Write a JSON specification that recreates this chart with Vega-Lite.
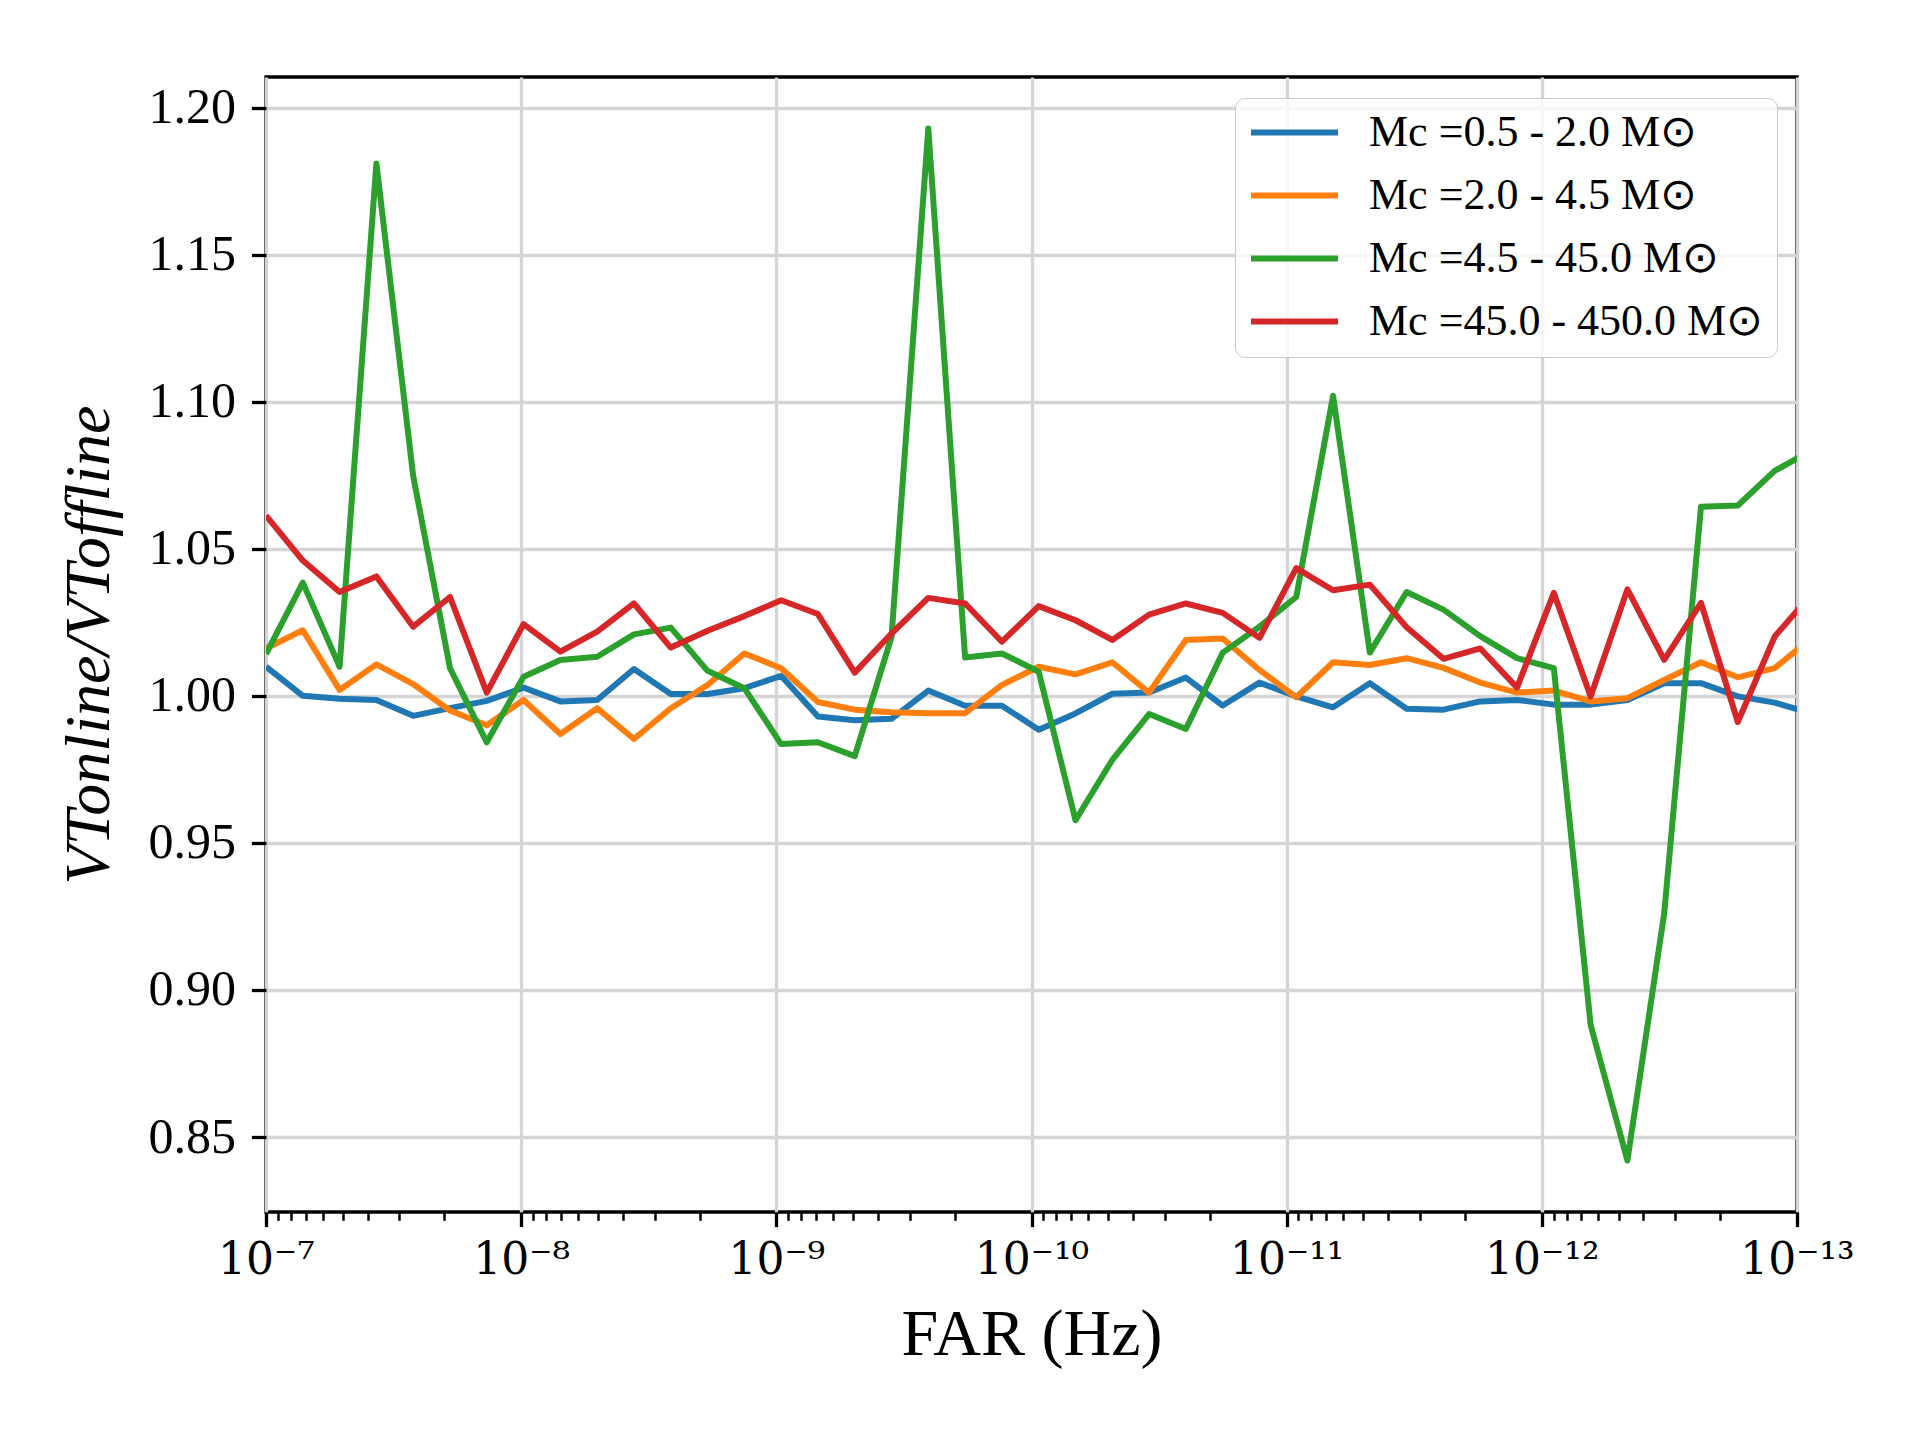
{
  "$schema": "https://vega.github.io/schema/vega-lite/v6.json",
  "width": 1531,
  "height": 1135,
  "autosize": {"type": "none"},
  "padding": {"left": 266, "top": 77, "right": 123, "bottom": 228},
  "background": "white",
  "config": {
    "view": {"stroke": "black", "strokeWidth": 3.3},
    "font": "Liberation Serif"
  },
  "data": {
    "values": [
      {"far": 1e-7, "series": "Mc =0.5 - 2.0 M⊙", "ratio": 1.0099},
      {"far": 7.174e-8, "series": "Mc =0.5 - 2.0 M⊙", "ratio": 1.0000},
      {"far": 5.147e-8, "series": "Mc =0.5 - 2.0 M⊙", "ratio": 0.9990},
      {"far": 3.693e-8, "series": "Mc =0.5 - 2.0 M⊙", "ratio": 0.9986},
      {"far": 2.650e-8, "series": "Mc =0.5 - 2.0 M⊙", "ratio": 0.9932},
      {"far": 1.901e-8, "series": "Mc =0.5 - 2.0 M⊙", "ratio": 0.9958},
      {"far": 1.364e-8, "series": "Mc =0.5 - 2.0 M⊙", "ratio": 0.9983},
      {"far": 9.786e-9, "series": "Mc =0.5 - 2.0 M⊙", "ratio": 1.0028},
      {"far": 7.020e-9, "series": "Mc =0.5 - 2.0 M⊙", "ratio": 0.9981},
      {"far": 5.037e-9, "series": "Mc =0.5 - 2.0 M⊙", "ratio": 0.9986},
      {"far": 3.614e-9, "series": "Mc =0.5 - 2.0 M⊙", "ratio": 1.0091},
      {"far": 2.593e-9, "series": "Mc =0.5 - 2.0 M⊙", "ratio": 1.0006},
      {"far": 1.860e-9, "series": "Mc =0.5 - 2.0 M⊙", "ratio": 1.0006},
      {"far": 1.335e-9, "series": "Mc =0.5 - 2.0 M⊙", "ratio": 1.0026},
      {"far": 9.577e-10, "series": "Mc =0.5 - 2.0 M⊙", "ratio": 1.0068},
      {"far": 6.870e-10, "series": "Mc =0.5 - 2.0 M⊙", "ratio": 0.9930},
      {"far": 4.929e-10, "series": "Mc =0.5 - 2.0 M⊙", "ratio": 0.9917},
      {"far": 3.537e-10, "series": "Mc =0.5 - 2.0 M⊙", "ratio": 0.9922},
      {"far": 2.538e-10, "series": "Mc =0.5 - 2.0 M⊙", "ratio": 1.0018},
      {"far": 1.8205e-10, "series": "Mc =0.5 - 2.0 M⊙", "ratio": 0.9966},
      {"far": 1.306e-10, "series": "Mc =0.5 - 2.0 M⊙", "ratio": 0.9966},
      {"far": 9.371e-11, "series": "Mc =0.5 - 2.0 M⊙", "ratio": 0.9885},
      {"far": 6.723e-11, "series": "Mc =0.5 - 2.0 M⊙", "ratio": 0.9940},
      {"far": 4.824e-11, "series": "Mc =0.5 - 2.0 M⊙", "ratio": 1.0007},
      {"far": 3.461e-11, "series": "Mc =0.5 - 2.0 M⊙", "ratio": 1.0011},
      {"far": 2.483e-11, "series": "Mc =0.5 - 2.0 M⊙", "ratio": 1.0062},
      {"far": 1.781e-11, "series": "Mc =0.5 - 2.0 M⊙", "ratio": 0.9967},
      {"far": 1.278e-11, "series": "Mc =0.5 - 2.0 M⊙", "ratio": 1.0045},
      {"far": 9.171e-12, "series": "Mc =0.5 - 2.0 M⊙", "ratio": 0.9998},
      {"far": 6.579e-12, "series": "Mc =0.5 - 2.0 M⊙", "ratio": 0.9961},
      {"far": 4.721e-12, "series": "Mc =0.5 - 2.0 M⊙", "ratio": 1.0043},
      {"far": 3.387e-12, "series": "Mc =0.5 - 2.0 M⊙", "ratio": 0.9956},
      {"far": 2.430e-12, "series": "Mc =0.5 - 2.0 M⊙", "ratio": 0.9953},
      {"far": 1.743e-12, "series": "Mc =0.5 - 2.0 M⊙", "ratio": 0.9981},
      {"far": 1.251e-12, "series": "Mc =0.5 - 2.0 M⊙", "ratio": 0.9986},
      {"far": 8.974e-13, "series": "Mc =0.5 - 2.0 M⊙", "ratio": 0.9970},
      {"far": 6.438e-13, "series": "Mc =0.5 - 2.0 M⊙", "ratio": 0.9970},
      {"far": 4.620e-13, "series": "Mc =0.5 - 2.0 M⊙", "ratio": 0.9986},
      {"far": 3.315e-13, "series": "Mc =0.5 - 2.0 M⊙", "ratio": 1.0043},
      {"far": 2.378e-13, "series": "Mc =0.5 - 2.0 M⊙", "ratio": 1.0043},
      {"far": 1.706e-13, "series": "Mc =0.5 - 2.0 M⊙", "ratio": 0.9998},
      {"far": 1.224e-13, "series": "Mc =0.5 - 2.0 M⊙", "ratio": 0.9977},
      {"far": 8.781e-14, "series": "Mc =0.5 - 2.0 M⊙", "ratio": 0.9941},

      {"far": 1e-7, "series": "Mc =2.0 - 4.5 M⊙", "ratio": 1.0161},
      {"far": 7.174e-8, "series": "Mc =2.0 - 4.5 M⊙", "ratio": 1.0223},
      {"far": 5.147e-8, "series": "Mc =2.0 - 4.5 M⊙", "ratio": 1.0020},
      {"far": 3.693e-8, "series": "Mc =2.0 - 4.5 M⊙", "ratio": 1.0107},
      {"far": 2.650e-8, "series": "Mc =2.0 - 4.5 M⊙", "ratio": 1.0040},
      {"far": 1.901e-8, "series": "Mc =2.0 - 4.5 M⊙", "ratio": 0.9950},
      {"far": 1.364e-8, "series": "Mc =2.0 - 4.5 M⊙", "ratio": 0.9900},
      {"far": 9.786e-9, "series": "Mc =2.0 - 4.5 M⊙", "ratio": 0.9986},
      {"far": 7.020e-9, "series": "Mc =2.0 - 4.5 M⊙", "ratio": 0.9870},
      {"far": 5.037e-9, "series": "Mc =2.0 - 4.5 M⊙", "ratio": 0.9958},
      {"far": 3.614e-9, "series": "Mc =2.0 - 4.5 M⊙", "ratio": 0.9853},
      {"far": 2.593e-9, "series": "Mc =2.0 - 4.5 M⊙", "ratio": 0.9958},
      {"far": 1.860e-9, "series": "Mc =2.0 - 4.5 M⊙", "ratio": 1.0037},
      {"far": 1.335e-9, "series": "Mc =2.0 - 4.5 M⊙", "ratio": 1.0144},
      {"far": 9.577e-10, "series": "Mc =2.0 - 4.5 M⊙", "ratio": 1.0094},
      {"far": 6.870e-10, "series": "Mc =2.0 - 4.5 M⊙", "ratio": 0.9979},
      {"far": 4.929e-10, "series": "Mc =2.0 - 4.5 M⊙", "ratio": 0.9953},
      {"far": 3.537e-10, "series": "Mc =2.0 - 4.5 M⊙", "ratio": 0.9944},
      {"far": 2.538e-10, "series": "Mc =2.0 - 4.5 M⊙", "ratio": 0.9941},
      {"far": 1.8205e-10, "series": "Mc =2.0 - 4.5 M⊙", "ratio": 0.9941},
      {"far": 1.306e-10, "series": "Mc =2.0 - 4.5 M⊙", "ratio": 1.0037},
      {"far": 9.371e-11, "series": "Mc =2.0 - 4.5 M⊙", "ratio": 1.0099},
      {"far": 6.723e-11, "series": "Mc =2.0 - 4.5 M⊙", "ratio": 1.0073},
      {"far": 4.824e-11, "series": "Mc =2.0 - 4.5 M⊙", "ratio": 1.0114},
      {"far": 3.461e-11, "series": "Mc =2.0 - 4.5 M⊙", "ratio": 1.0011},
      {"far": 2.483e-11, "series": "Mc =2.0 - 4.5 M⊙", "ratio": 1.0190},
      {"far": 1.781e-11, "series": "Mc =2.0 - 4.5 M⊙", "ratio": 1.0195},
      {"far": 1.278e-11, "series": "Mc =2.0 - 4.5 M⊙", "ratio": 1.0088},
      {"far": 9.171e-12, "series": "Mc =2.0 - 4.5 M⊙", "ratio": 0.9995},
      {"far": 6.579e-12, "series": "Mc =2.0 - 4.5 M⊙", "ratio": 1.0114},
      {"far": 4.721e-12, "series": "Mc =2.0 - 4.5 M⊙", "ratio": 1.0105},
      {"far": 3.387e-12, "series": "Mc =2.0 - 4.5 M⊙", "ratio": 1.0128},
      {"far": 2.430e-12, "series": "Mc =2.0 - 4.5 M⊙", "ratio": 1.0095},
      {"far": 1.743e-12, "series": "Mc =2.0 - 4.5 M⊙", "ratio": 1.0045},
      {"far": 1.251e-12, "series": "Mc =2.0 - 4.5 M⊙", "ratio": 1.0011},
      {"far": 8.974e-13, "series": "Mc =2.0 - 4.5 M⊙", "ratio": 1.0018},
      {"far": 6.438e-13, "series": "Mc =2.0 - 4.5 M⊙", "ratio": 0.9981},
      {"far": 4.620e-13, "series": "Mc =2.0 - 4.5 M⊙", "ratio": 0.9992},
      {"far": 3.315e-13, "series": "Mc =2.0 - 4.5 M⊙", "ratio": 1.0054},
      {"far": 2.378e-13, "series": "Mc =2.0 - 4.5 M⊙", "ratio": 1.0114},
      {"far": 1.706e-13, "series": "Mc =2.0 - 4.5 M⊙", "ratio": 1.0063},
      {"far": 1.224e-13, "series": "Mc =2.0 - 4.5 M⊙", "ratio": 1.0094},
      {"far": 8.781e-14, "series": "Mc =2.0 - 4.5 M⊙", "ratio": 1.0196},

      {"far": 1e-7, "series": "Mc =4.5 - 45.0 M⊙", "ratio": 1.0142},
      {"far": 7.174e-8, "series": "Mc =4.5 - 45.0 M⊙", "ratio": 1.0385},
      {"far": 5.147e-8, "series": "Mc =4.5 - 45.0 M⊙", "ratio": 1.0099},
      {"far": 3.693e-8, "series": "Mc =4.5 - 45.0 M⊙", "ratio": 1.1810},
      {"far": 2.650e-8, "series": "Mc =4.5 - 45.0 M⊙", "ratio": 1.0748},
      {"far": 1.901e-8, "series": "Mc =4.5 - 45.0 M⊙", "ratio": 1.0094},
      {"far": 1.364e-8, "series": "Mc =4.5 - 45.0 M⊙", "ratio": 0.9842},
      {"far": 9.786e-9, "series": "Mc =4.5 - 45.0 M⊙", "ratio": 1.0065},
      {"far": 7.020e-9, "series": "Mc =4.5 - 45.0 M⊙", "ratio": 1.0122},
      {"far": 5.037e-9, "series": "Mc =4.5 - 45.0 M⊙", "ratio": 1.0133},
      {"far": 3.614e-9, "series": "Mc =4.5 - 45.0 M⊙", "ratio": 1.0209},
      {"far": 2.593e-9, "series": "Mc =4.5 - 45.0 M⊙", "ratio": 1.0232},
      {"far": 1.860e-9, "series": "Mc =4.5 - 45.0 M⊙", "ratio": 1.0085},
      {"far": 1.335e-9, "series": "Mc =4.5 - 45.0 M⊙", "ratio": 1.0026},
      {"far": 9.577e-10, "series": "Mc =4.5 - 45.0 M⊙", "ratio": 0.9836},
      {"far": 6.870e-10, "series": "Mc =4.5 - 45.0 M⊙", "ratio": 0.9842},
      {"far": 4.929e-10, "series": "Mc =4.5 - 45.0 M⊙", "ratio": 0.9795},
      {"far": 3.537e-10, "series": "Mc =4.5 - 45.0 M⊙", "ratio": 1.0200},
      {"far": 2.538e-10, "series": "Mc =4.5 - 45.0 M⊙", "ratio": 1.1929},
      {"far": 1.8205e-10, "series": "Mc =4.5 - 45.0 M⊙", "ratio": 1.0130},
      {"far": 1.306e-10, "series": "Mc =4.5 - 45.0 M⊙", "ratio": 1.0144},
      {"far": 9.371e-11, "series": "Mc =4.5 - 45.0 M⊙", "ratio": 1.0082},
      {"far": 6.723e-11, "series": "Mc =4.5 - 45.0 M⊙", "ratio": 0.9577},
      {"far": 4.824e-11, "series": "Mc =4.5 - 45.0 M⊙", "ratio": 0.9782},
      {"far": 3.461e-11, "series": "Mc =4.5 - 45.0 M⊙", "ratio": 0.9938},
      {"far": 2.483e-11, "series": "Mc =4.5 - 45.0 M⊙", "ratio": 0.9887},
      {"far": 1.781e-11, "series": "Mc =4.5 - 45.0 M⊙", "ratio": 1.0147},
      {"far": 1.278e-11, "series": "Mc =4.5 - 45.0 M⊙", "ratio": 1.0235},
      {"far": 9.171e-12, "series": "Mc =4.5 - 45.0 M⊙", "ratio": 1.0336},
      {"far": 6.579e-12, "series": "Mc =4.5 - 45.0 M⊙", "ratio": 1.1020},
      {"far": 4.721e-12, "series": "Mc =4.5 - 45.0 M⊙", "ratio": 1.0147},
      {"far": 3.387e-12, "series": "Mc =4.5 - 45.0 M⊙", "ratio": 1.0353},
      {"far": 2.430e-12, "series": "Mc =4.5 - 45.0 M⊙", "ratio": 1.0293},
      {"far": 1.743e-12, "series": "Mc =4.5 - 45.0 M⊙", "ratio": 1.0203},
      {"far": 1.251e-12, "series": "Mc =4.5 - 45.0 M⊙", "ratio": 1.0128},
      {"far": 8.974e-13, "series": "Mc =4.5 - 45.0 M⊙", "ratio": 1.0094},
      {"far": 6.438e-13, "series": "Mc =4.5 - 45.0 M⊙", "ratio": 0.8881},
      {"far": 4.620e-13, "series": "Mc =4.5 - 45.0 M⊙", "ratio": 0.8420},
      {"far": 3.315e-13, "series": "Mc =4.5 - 45.0 M⊙", "ratio": 0.9260},
      {"far": 2.378e-13, "series": "Mc =4.5 - 45.0 M⊙", "ratio": 1.0643},
      {"far": 1.706e-13, "series": "Mc =4.5 - 45.0 M⊙", "ratio": 1.0647},
      {"far": 1.224e-13, "series": "Mc =4.5 - 45.0 M⊙", "ratio": 1.0765},
      {"far": 8.781e-14, "series": "Mc =4.5 - 45.0 M⊙", "ratio": 1.0834},

      {"far": 1e-7, "series": "Mc =45.0 - 450.0 M⊙", "ratio": 1.0613},
      {"far": 7.174e-8, "series": "Mc =45.0 - 450.0 M⊙", "ratio": 1.0460},
      {"far": 5.147e-8, "series": "Mc =45.0 - 450.0 M⊙", "ratio": 1.0353},
      {"far": 3.693e-8, "series": "Mc =45.0 - 450.0 M⊙", "ratio": 1.0406},
      {"far": 2.650e-8, "series": "Mc =45.0 - 450.0 M⊙", "ratio": 1.0235},
      {"far": 1.901e-8, "series": "Mc =45.0 - 450.0 M⊙", "ratio": 1.0336},
      {"far": 1.364e-8, "series": "Mc =45.0 - 450.0 M⊙", "ratio": 1.0011},
      {"far": 9.786e-9, "series": "Mc =45.0 - 450.0 M⊙", "ratio": 1.0244},
      {"far": 7.020e-9, "series": "Mc =45.0 - 450.0 M⊙", "ratio": 1.0150},
      {"far": 5.037e-9, "series": "Mc =45.0 - 450.0 M⊙", "ratio": 1.0218},
      {"far": 3.614e-9, "series": "Mc =45.0 - 450.0 M⊙", "ratio": 1.0314},
      {"far": 2.593e-9, "series": "Mc =45.0 - 450.0 M⊙", "ratio": 1.0164},
      {"far": 1.860e-9, "series": "Mc =45.0 - 450.0 M⊙", "ratio": 1.0221},
      {"far": 1.335e-9, "series": "Mc =45.0 - 450.0 M⊙", "ratio": 1.0271},
      {"far": 9.577e-10, "series": "Mc =45.0 - 450.0 M⊙", "ratio": 1.0325},
      {"far": 6.870e-10, "series": "Mc =45.0 - 450.0 M⊙", "ratio": 1.0278},
      {"far": 4.929e-10, "series": "Mc =45.0 - 450.0 M⊙", "ratio": 1.0079},
      {"far": 3.537e-10, "series": "Mc =45.0 - 450.0 M⊙", "ratio": 1.0212},
      {"far": 2.538e-10, "series": "Mc =45.0 - 450.0 M⊙", "ratio": 1.0333},
      {"far": 1.8205e-10, "series": "Mc =45.0 - 450.0 M⊙", "ratio": 1.0314},
      {"far": 1.306e-10, "series": "Mc =45.0 - 450.0 M⊙", "ratio": 1.0184},
      {"far": 9.371e-11, "series": "Mc =45.0 - 450.0 M⊙", "ratio": 1.0305},
      {"far": 6.723e-11, "series": "Mc =45.0 - 450.0 M⊙", "ratio": 1.0257},
      {"far": 4.824e-11, "series": "Mc =45.0 - 450.0 M⊙", "ratio": 1.0190},
      {"far": 3.461e-11, "series": "Mc =45.0 - 450.0 M⊙", "ratio": 1.0276},
      {"far": 2.483e-11, "series": "Mc =45.0 - 450.0 M⊙", "ratio": 1.0314},
      {"far": 1.781e-11, "series": "Mc =45.0 - 450.0 M⊙", "ratio": 1.0282},
      {"far": 1.278e-11, "series": "Mc =45.0 - 450.0 M⊙", "ratio": 1.0197},
      {"far": 9.171e-12, "series": "Mc =45.0 - 450.0 M⊙", "ratio": 1.0434},
      {"far": 6.579e-12, "series": "Mc =45.0 - 450.0 M⊙", "ratio": 1.0359},
      {"far": 4.721e-12, "series": "Mc =45.0 - 450.0 M⊙", "ratio": 1.0378},
      {"far": 3.387e-12, "series": "Mc =45.0 - 450.0 M⊙", "ratio": 1.0233},
      {"far": 2.430e-12, "series": "Mc =45.0 - 450.0 M⊙", "ratio": 1.0126},
      {"far": 1.743e-12, "series": "Mc =45.0 - 450.0 M⊙", "ratio": 1.0161},
      {"far": 1.251e-12, "series": "Mc =45.0 - 450.0 M⊙", "ratio": 1.0028},
      {"far": 8.974e-13, "series": "Mc =45.0 - 450.0 M⊙", "ratio": 1.0350},
      {"far": 6.438e-13, "series": "Mc =45.0 - 450.0 M⊙", "ratio": 0.9998},
      {"far": 4.620e-13, "series": "Mc =45.0 - 450.0 M⊙", "ratio": 1.0362},
      {"far": 3.315e-13, "series": "Mc =45.0 - 450.0 M⊙", "ratio": 1.0122},
      {"far": 2.378e-13, "series": "Mc =45.0 - 450.0 M⊙", "ratio": 1.0316},
      {"far": 1.706e-13, "series": "Mc =45.0 - 450.0 M⊙", "ratio": 0.9911},
      {"far": 1.224e-13, "series": "Mc =45.0 - 450.0 M⊙", "ratio": 1.0201},
      {"far": 8.781e-14, "series": "Mc =45.0 - 450.0 M⊙", "ratio": 1.0346}
    ]
  },
  "mark": {"type": "line", "clip": true, "strokeWidth": 6, "strokeCap": "butt", "strokeJoin": "round"},
  "encoding": {
    "x": {
      "field": "far",
      "type": "quantitative",
      "scale": {"type": "log", "domain": [1e-13, 1e-7], "reverse": true, "nice": false},
      "axis": {
        "title": "FAR (Hz)",
        "titleFont": "Liberation Serif",
        "titleFontSize": 66,
        "titleFontWeight": "normal",
        "titleColor": "black",
        "titlePadding": 20,
        "values": [1e-7, 9e-8, 8e-8, 7e-8, 6e-8, 5e-8, 4e-8, 3e-8, 2e-8,
                   1e-8, 9e-9, 8e-9, 7e-9, 6e-9, 5e-9, 4e-9, 3e-9, 2e-9,
                   1e-9, 9e-10, 8e-10, 7e-10, 6e-10, 5e-10, 4e-10, 3e-10, 2e-10,
                   1e-10, 9e-11, 8e-11, 7e-11, 6e-11, 5e-11, 4e-11, 3e-11, 2e-11,
                   1e-11, 9e-12, 8e-12, 7e-12, 6e-12, 5e-12, 4e-12, 3e-12, 2e-12,
                   1e-12, 9e-13, 8e-13, 7e-13, 6e-13, 5e-13, 4e-13, 3e-13, 2e-13,
                   1e-13],
        "labelExpr": "abs(datum.value - 1e-7) < 1e-9 ? '10⁻⁷' : abs(datum.value - 1e-8) < 1e-10 ? '10⁻⁸' : abs(datum.value - 1e-9) < 1e-11 ? '10⁻⁹' : abs(datum.value - 1e-10) < 1e-12 ? '10⁻¹⁰' : abs(datum.value - 1e-11) < 1e-13 ? '10⁻¹¹' : abs(datum.value - 1e-12) < 1e-14 ? '10⁻¹²' : abs(datum.value - 1e-13) < 1e-15 ? '10⁻¹³' : ''",
        "labelFont": "DejaVu Serif",
        "labelFontSize": 44,
        "labelColor": "black",
        "labelFlush": false,
        "labelOverlap": false,
        "labelPadding": 12,
        "domain": false,
        "ticks": true,
        "tickColor": "black",
        "tickSize": {"condition": {"test": "abs(log(datum.value)/LN10 - round(log(datum.value)/LN10)) < 0.001", "value": 14.6}, "value": 8.3},
        "tickWidth": {"condition": {"test": "abs(log(datum.value)/LN10 - round(log(datum.value)/LN10)) < 0.001", "value": 3.3}, "value": 2.5},
        "grid": true,
        "gridColor": "#d5d5d5",
        "gridWidth": 3.3,
        "gridOpacity": {"condition": {"test": "abs(log(datum.value)/LN10 - round(log(datum.value)/LN10)) < 0.001", "value": 1}, "value": 0}
      }
    },
    "y": {
      "field": "ratio",
      "type": "quantitative",
      "scale": {"domain": [0.8245, 1.2104], "nice": false, "zero": false},
      "axis": {
        "title": "VTonline/VToffline",
        "titleFont": "Liberation Serif",
        "titleFontSize": 64,
        "titleFontStyle": "italic",
        "titleFontWeight": "normal",
        "titleColor": "black",
        "titlePadding": 26,
        "values": [0.85, 0.9, 0.95, 1.0, 1.05, 1.1, 1.15, 1.2],
        "format": ".2f",
        "labelFont": "Liberation Serif",
        "labelFontSize": 50,
        "labelColor": "black",
        "labelFlush": false,
        "labelPadding": 16,
        "domain": false,
        "tickColor": "black",
        "tickSize": 14.6,
        "tickWidth": 3.3,
        "grid": true,
        "gridColor": "#d5d5d5",
        "gridWidth": 3.3
      }
    },
    "color": {
      "field": "series",
      "type": "nominal",
      "scale": {
        "domain": ["Mc =0.5 - 2.0 M⊙", "Mc =2.0 - 4.5 M⊙", "Mc =4.5 - 45.0 M⊙", "Mc =45.0 - 450.0 M⊙"],
        "range": ["#1f77b4", "#ff7f0e", "#2ca02c", "#d62728"]
      },
      "legend": {
        "title": null,
        "orient": "none",
        "legendX": 969,
        "legendY": 21,
        "symbolType": "stroke",
        "symbolSize": 7569,
        "symbolStrokeWidth": 6,
        "labelFont": "Liberation Serif",
        "labelFontSize": 44,
        "labelColor": "black",
        "labelOffset": 28,
        "labelLimit": 600,
        "padding": 13,
        "rowPadding": 18,
        "clipHeight": 43,
        "fillColor": "rgba(255,255,255,0.8)",
        "strokeColor": "#c8c8c8",
        "cornerRadius": 10
      }
    }
  }
}
